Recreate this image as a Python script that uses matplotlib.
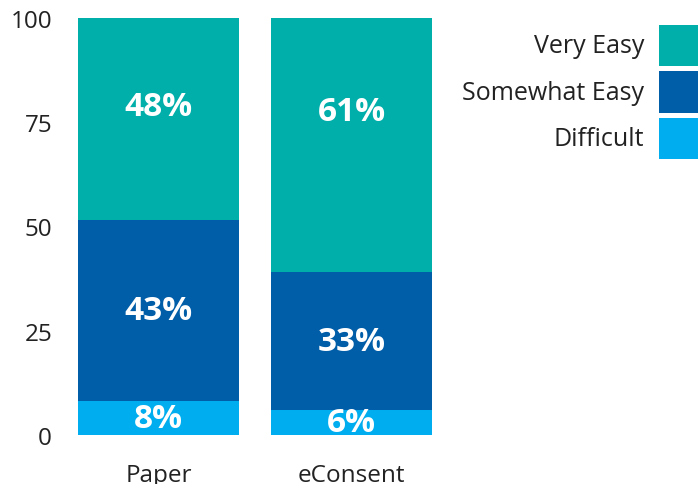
import matplotlib
matplotlib.use("Agg")
import matplotlib.pyplot as plt
from matplotlib.patches import Rectangle
import numpy as np

categories = ["Paper", "eConsent"]
series_names = ["Difficult", "Somewhat Easy", "Very Easy"]
difficult = [8, 6]
somewhat_easy = [43, 33]
very_easy = [48, 61]
y_ticks = [0, 25, 50, 75, 100]

colors = ["#00AEEF", "#005DA8", "#00AEAA"]

plt.rcParams['font.family'] = ['Open Sans', 'DejaVu Sans']

W, H = 698, 485
fig = plt.figure(figsize=(W / 100, H / 100), dpi=100)
ax = fig.add_axes([68 / W, (H - 436) / H, (442 - 68) / W, (436 - 19) / H])

data = np.array([difficult, somewhat_easy, very_easy], dtype=float)
totals = data.sum(axis=0)
shares = data / totals * 100

x = np.arange(len(categories))
bottom = np.zeros(len(categories))
n = len(series_names)
for i, name in enumerate(series_names):
    bars = ax.bar(x, shares[i], bottom=bottom, width=0.834, color=colors[i],
                  linewidth=0, label=name)
    for j, b in enumerate(bars):
        if i == n - 1:
            # top segment labels sit in the upper part of the segment
            ly = 100 - 21.2 - (100 - bottom[j] - 48) * 0.1
        else:
            ly = bottom[j] + shares[i][j] / 2
        ax.text(b.get_x() + b.get_width() / 2, ly,
                f"{data[i][j]:.0f}%", ha="center", va="center",
                color="white", fontsize=24, fontweight="bold")
    bottom += shares[i]

ax.set_xlim(-0.469, 1.469)
ax.set_ylim(0, 100)
ax.set_yticks(y_ticks)
ax.set_yticklabels([str(t) for t in y_ticks])
ax.set_xticks(x)
ax.set_xticklabels(categories)
for s in ax.spines.values():
    s.set_visible(False)
ax.tick_params(axis="both", length=0, labelsize=17.5, labelcolor="#222222")
ax.tick_params(axis="y", pad=11.5)
ax.tick_params(axis="x", pad=20)

# legend (reversed order, labels left of swatches)
for k, idx in enumerate(reversed(range(n))):
    top = 26 + k * 46.5
    fig.patches.append(Rectangle((659 / W, (H - top - 41) / H), 41 / W, 41 / H,
                                 transform=fig.transFigure, color=colors[idx],
                                 linewidth=0))
    fig.text(644 / W, (H - top - 20.5) / H, series_names[idx], ha="right",
             va="center", fontsize=18, color="#222222")

fig.savefig("out.png", dpi=100)
